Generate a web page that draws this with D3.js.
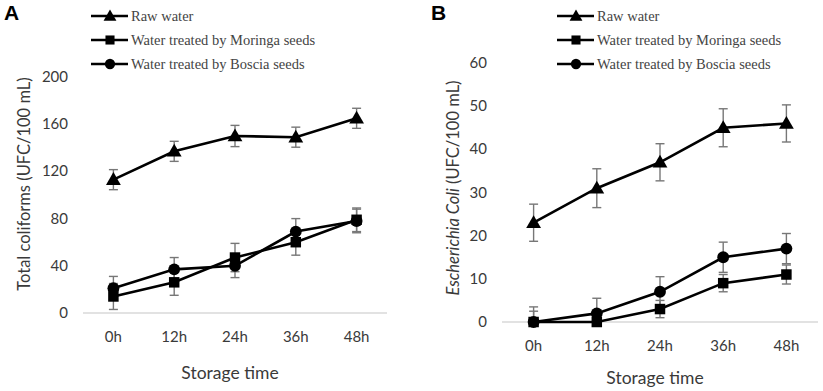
<!DOCTYPE html>
<html>
<head>
<meta charset="utf-8">
<script src="https://cdn.jsdelivr.net/npm/d3@7"></script>
<style>
  body { margin: 0; background: #fff; }
  svg text { fill: #3a3a3a; }
</style>
</head>
<body>
<div id="chart"></div>
<script>
// shared categories & legend
const times = ['0h', '12h', '24h', '36h', '48h'];
const seriesNames = ['Raw water', 'Water treated by Moringa seeds', 'Water treated by Boscia seeds'];
const seriesShapes = ['triangle', 'square', 'circle'];

// Panel A — total coliforms
const aTicks = [0, 40, 80, 120, 160, 200];
const aRaw = [113, 137, 150, 149, 165];
const aRawErr = [8.5, 8.5, 9, 8.5, 8.5];
const aMoringa = [14, 26, 47, 60, 79];
const aMoringaErr = [11, 11, 12, 11, 10];
const aBoscia = [21, 37, 40, 69, 78];
const aBosciaErr = [10, 10, 10, 11, 10];

// Panel B — E. coli
const bTicks = [0, 10, 20, 30, 40, 50, 60];
const bRaw = [23, 31, 37, 45, 46];
const bRawErr = [4.3, 4.5, 4.3, 4.4, 4.3];
const bMoringa = [0, 0, 3, 9, 11];
const bMoringaErr = [2.5, 2, 2, 2, 2.2];
const bBoscia = [0, 2, 7, 15, 17];
const bBosciaErr = [3.5, 3.5, 3.5, 3.5, 3.5];

const W = 823, H = 391;
const svg = d3.select('#chart').append('svg').attr('width', W).attr('height', H);

const symbols = { triangle: d3.symbolTriangle, square: d3.symbolSquare, circle: d3.symbolCircle };
const symSize = { triangle: 95, square: 110, circle: 110 };

function drawPanel(p) {
  const g = svg.append('g');
  const x = d3.scaleBand().domain(times).range([p.x0, p.x1]);
  const y = d3.scaleLinear().domain([0, p.max]).range([p.yBottom, p.yTop]);
  const cx = d => x(d) + x.bandwidth() / 2;

  // panel letter
  g.append('text').attr('x', p.letterX).attr('y', 20)
    .attr('font-family', 'Liberation Sans, Arial, sans-serif').attr('font-weight', 'bold')
    .attr('font-size', 21).style('fill', '#000').text(p.letter);

  // x axis baseline
  g.append('line').attr('x1', p.x0).attr('x2', p.x1)
    .attr('y1', y(0)).attr('y2', y(0)).attr('stroke', '#d9d9d9').attr('stroke-width', 1.5);

  // y tick labels
  g.selectAll('.yt').data(p.ticks).enter().append('text')
    .attr('x', p.x0 - 15).attr('y', d => y(d) + 5)
    .attr('text-anchor', 'end').attr('font-family', 'Lato, sans-serif').attr('font-size', 15)
    .text(d => d);

  // x tick labels
  g.selectAll('.xt').data(times).enter().append('text')
    .attr('x', d => cx(d)).attr('y', y(0) + 29)
    .attr('text-anchor', 'middle').attr('font-family', 'Lato, sans-serif').attr('font-size', 15)
    .text(d => d);

  // axis titles
  g.append('text').attr('x', (p.x0 + p.x1) / 2 - 5).attr('y', p.xTitleY)
    .attr('text-anchor', 'middle').attr('font-family', 'Lato, sans-serif').attr('font-size', 17.5)
    .text('Storage time');

  const yt = g.append('text')
    .attr('transform', `translate(${p.yTitleX},${p.yTitleY}) rotate(-90)`)
    .attr('text-anchor', 'middle').attr('font-family', 'Lato, sans-serif').attr('font-size', 16.5);
  if (p.yTitleItalic) yt.append('tspan').attr('font-style', 'italic').text(p.yTitleItalic);
  yt.append('tspan').text(p.yTitle);

  const series = [
    { vals: p.raw, err: p.rawErr, shape: 'triangle' },
    { vals: p.moringa, err: p.moringaErr, shape: 'square' },
    { vals: p.boscia, err: p.bosciaErr, shape: 'circle' }
  ];

  // error bars
  series.forEach(s => {
    s.vals.forEach((v, i) => {
      const xx = cx(times[i]);
      const lo = y(Math.max(0, v - s.err[i])), hi = y(v + s.err[i]);
      g.append('line').attr('x1', xx).attr('x2', xx).attr('y1', lo).attr('y2', hi)
        .attr('stroke', '#777').attr('stroke-width', 1.4);
      [lo, hi].forEach(yy => g.append('line')
        .attr('x1', xx - 4.5).attr('x2', xx + 4.5).attr('y1', yy).attr('y2', yy)
        .attr('stroke', '#777').attr('stroke-width', 1.4));
    });
  });

  const line = d3.line().x((d, i) => cx(times[i])).y(d => y(d));
  series.forEach(s => {
    g.append('path').attr('d', line(s.vals)).attr('fill', 'none')
      .attr('stroke', '#000').attr('stroke-width', 2.6);
    g.selectAll(null).data(s.vals).enter().append('path')
      .attr('d', d3.symbol().type(symbols[s.shape]).size(symSize[s.shape]))
      .attr('transform', (d, i) => `translate(${cx(times[i])},${y(d) + (s.shape === 'triangle' ? 1 : 0)})`)
      .attr('fill', '#000');
  });

  // legend
  seriesNames.forEach((name, i) => {
    const ly = p.legendY + i * 24;
    g.append('line').attr('x1', p.legendX).attr('x2', p.legendX + 37)
      .attr('y1', ly).attr('y2', ly).attr('stroke', '#000').attr('stroke-width', 2.4);
    g.append('path')
      .attr('d', d3.symbol().type(symbols[seriesShapes[i]]).size(symSize[seriesShapes[i]] * 0.75))
      .attr('transform', `translate(${p.legendX + 19},${ly + (i === 0 ? 1 : 0)})`).attr('fill', '#000');
    g.append('text').attr('x', p.legendX + 40).attr('y', ly + 5)
      .attr('font-family', 'Liberation Serif, Times New Roman, serif').attr('font-size', 14.5)
      .style('fill', '#444').text(name);
  });
}

drawPanel({
  letter: 'A', letterX: 4,
  x0: 83, x1: 387, yBottom: 313, yTop: 77, max: 200, ticks: aTicks,
  raw: aRaw, rawErr: aRawErr, moringa: aMoringa, moringaErr: aMoringaErr, boscia: aBoscia, bosciaErr: aBosciaErr,
  xTitleY: 379, yTitleX: 30, yTitleY: 184, yTitle: 'Total coliforms (UFC/100 mL)',
  legendX: 91, legendY: 16
});

drawPanel({
  letter: 'B', letterX: 431,
  x0: 502, x1: 818, yBottom: 322, yTop: 63, max: 60, ticks: bTicks,
  raw: bRaw, rawErr: bRawErr, moringa: bMoringa, moringaErr: bMoringaErr, boscia: bBoscia, bosciaErr: bBosciaErr,
  xTitleY: 384, yTitleX: 459, yTitleY: 188, yTitleItalic: 'Escherichia Coli', yTitle: ' (UFC/100 mL)',
  legendX: 557, legendY: 16
});
</script>
</body>
</html>
